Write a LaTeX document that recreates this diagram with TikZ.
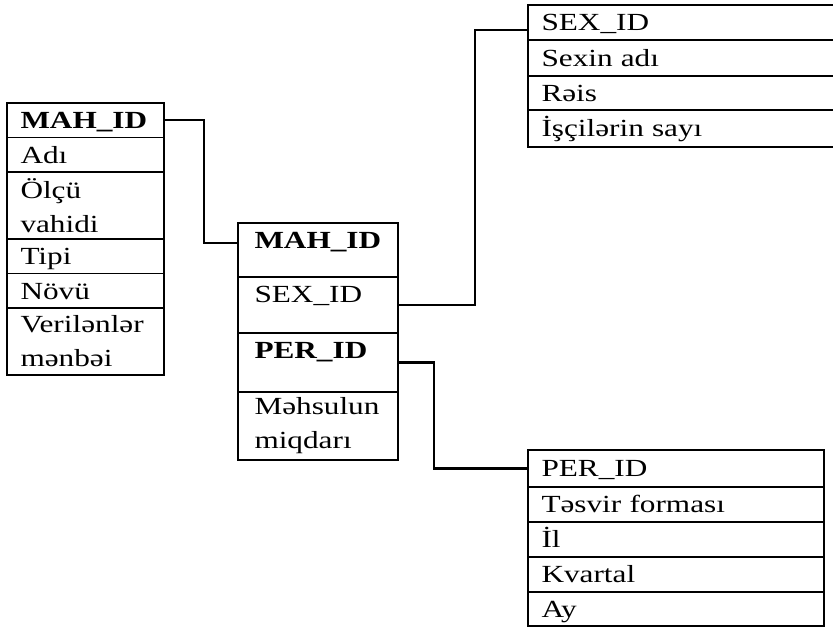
\documentclass[tikz,border=0pt]{standalone}
\usepackage{fontspec}
\setmainfont[FakeStretch=1.27]{Liberation Serif}
\usepackage{tikz}
\usetikzlibrary{positioning}

\begin{document}
\begin{tikzpicture}[
  x=1cm, y=1cm, font=\fontsize{14pt}{19.3pt}\selectfont,
  cell/.style={rectangle, draw=black, line width=1.1pt, outer sep=0pt,
               inner xsep=0.27cm, inner ysep=0pt, align=left, anchor=north},
  one/.style={cell, text height=0.33cm, text depth=0pt, minimum height=#1},
  two/.style={cell, minimum height=#1},
  key/.style={cell, inner ysep=0.185cm, text height=0.33cm, text depth=#1},
  ltab/.style={text width=2.60cm},
  mtab/.style={inner xsep=0.33cm, text width=2.54cm},
  rtab/.style={text width=5.86cm},
  btab/.style={text width=5.38cm},
  link/.style={line width=1.4pt, draw=black}]

  \clip (0,0) rectangle (16.66,12.6);

  % ---------- products ----------
  \node[one=0.69cm, ltab, anchor=north west] (lmah) at (0.14,10.54) {\textbf{MAH\_ID}};
  \node[one=0.69cm, ltab, below=0pt of lmah]  (ladi)  {Adı};
  \node[two=1.34cm, ltab, below=0pt of ladi]  (lolcu) {Ölçü\\vahidi};
  \node[one=0.69cm, ltab, below=0pt of lolcu] (ltip)  {Tipi};
  \node[one=0.69cm, ltab, below=0pt of ltip]  (lnov)  {Növü};
  \node[two=1.34cm, ltab, below=0pt of lnov]  (lmen)  {Verilənlər\\mənbəi};

  % ---------- facts ----------
  \node[key=0.38cm, mtab, anchor=north west] (mmah) at (4.76,8.14) {\textbf{MAH\_ID}};
  \node[key=0.42cm, mtab, below=0pt of mmah] (msex) {SEX\_ID};
  \node[key=0.48cm, mtab, below=0pt of msex] (mper) {\textbf{PER\_ID}};
  \node[two=1.36cm, mtab, below=0pt of mper] (mmiq) {Məhsulun\\miqdarı};

  % ---------- workshops ----------
  \node[one=0.70cm, rtab, anchor=north west] (rsex) at (10.56,12.5) {SEX\_ID};
  \node[one=0.72cm, rtab, below=0pt of rsex] (rad)  {Sexin adı};
  \node[one=0.68cm, rtab, below=0pt of rad]  (rreis) {Rəis};
  \node[one=0.74cm, rtab, below=0pt of rreis] (rsay) {İşçilərin sayı};

  % ---------- periods ----------
  \node[one=0.74cm, btab, anchor=north west] (bper) at (10.56,3.6) {PER\_ID};
  \node[one=0.70cm, btab, below=0pt of bper]  (bform) {Təsvir forması};
  \node[one=0.70cm, btab, below=0pt of bform] (bil)   {İl};
  \node[one=0.70cm, btab, below=0pt of bil]   (bkv)   {Kvartal};
  \node[one=0.68cm, btab, below=0pt of bkv]   (bay)   {Ay};

  % links between keys
  \draw[link] (lmah.east) -- ++(0.8,0) |- ([yshift=0.14cm]mmah.west);
  \draw[link] (msex.east) -- ++(1.54,0) |- ([yshift=-0.15cm]rsex.west);
  \draw[link] (mper.east) -- ++(0.72,0) |- (bper.west);

\end{tikzpicture}
\end{document}
